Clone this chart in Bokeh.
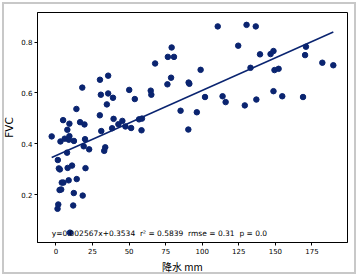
import numpy as np
from bokeh.plotting import figure
from bokeh.models import ColumnDataSource, Label, Range1d, FixedTicker
from bokeh.embed import file_html
from bokeh.resources import INLINE

# ---- data ----
rain = [-2.9, 3.1, 4.9, 6.0, 7.8, 9.2, 9.2, 8.8, 12.3, 7.6, 1.3, 14.0, 18.0, 16.5, 19.5,
        19.9, 19.0, 22.7, 2.0, 2.7, 8.0, 11.0, 20.2, 4.0, 5.1, 8.7, 14.2, 2.5, 3.6, 12.2,
        18.3, 1.6, 1.1, 11.8, 9.6,
        30.1, 35.7, 30.7, 35.7, 34.8, 39.0, 30.0, 39.4, 31.0, 38.4, 42.7, 45.4, 47.5, 51.4,
        50.1, 53.9, 56.8, 58.8, 58.5, 33.7, 33.0,
        64.8, 65.2, 67.8, 76.5, 79.1, 80.7, 78.7, 76.2, 85.2, 90.7, 91.2, 90.5, 96.3, 98.9,
        101.9,
        110.6, 113.9, 116.0, 124.6, 130.3, 136.6, 129.1, 133.0, 137.0, 139.5, 146.7, 148.7,
        149.4, 152.2, 148.7, 154.7, 168.9, 170.9, 170.3, 182.1, 189.6]
fvc = [0.429, 0.409, 0.493, 0.420, 0.455, 0.479, 0.430, 0.416, 0.411, 0.365, 0.336, 0.537,
       0.621, 0.485, 0.476, 0.418, 0.390, 0.378, 0.303, 0.299, 0.305, 0.314, 0.304, 0.247,
       0.247, 0.256, 0.261, 0.218, 0.220, 0.206, 0.196, 0.161, 0.144, 0.157, 0.050,
       0.652, 0.668, 0.593, 0.598, 0.555, 0.581, 0.512, 0.498, 0.450, 0.461, 0.477, 0.490,
       0.468, 0.462, 0.612, 0.576, 0.496, 0.499, 0.453, 0.386, 0.372,
       0.609, 0.593, 0.716, 0.742, 0.779, 0.742, 0.660, 0.634, 0.530, 0.641, 0.636, 0.456,
       0.524, 0.691, 0.584,
       0.862, 0.587, 0.564, 0.786, 0.868, 0.862, 0.551, 0.699, 0.574, 0.752, 0.753, 0.765,
       0.690, 0.695, 0.607, 0.587, 0.584, 0.782, 0.749, 0.719, 0.709]

slope = 0.002567
intercept = 0.3534
r2 = 0.5839
rmse = 0.31
pval = 0.0

x_ticks = [0, 25, 50, 75, 100, 125, 150, 175]
y_ticks = [0.2, 0.4, 0.6, 0.8]

NAVY = "#0a2470"
TICK_FONT = "DejaVu Sans"

p = figure(width=358, height=276, output_backend="svg", toolbar_location=None,
           x_range=Range1d(-12.6, 199.3), y_range=Range1d(0.0113, 0.9167),
           min_border_left=30, min_border_right=11, min_border_top=12, min_border_bottom=31)
p.border_fill_alpha = 0
p.background_fill_color = "white"
p.outline_line_color = "black"
p.outline_line_width = 1
p.grid.visible = False
p.styles = {"box-shadow": "inset 0 0 0 2px #ffffff, inset 0 0 0 4px #c8c8c8",
            "background": "white"}

for ax in (p.xaxis[0], p.yaxis[0]):
    ax.axis_line_color = "black"
    ax.major_tick_out = 3
    ax.major_tick_in = 0
    ax.minor_tick_line_color = None
    ax.major_tick_line_color = "black"
    ax.major_label_text_font = TICK_FONT
    ax.major_label_text_font_size = "7px"
    ax.major_label_text_color = "black"
    ax.major_label_standoff = 2
    ax.axis_label_text_color = "black"
    ax.axis_label_text_font_style = "normal"

p.xaxis.ticker = FixedTicker(ticks=x_ticks)
p.yaxis.ticker = FixedTicker(ticks=y_ticks)

p.yaxis.axis_label = "FVC"
p.yaxis.axis_label_text_font = TICK_FONT
p.yaxis.axis_label_text_font_size = "10.5px"
p.yaxis.axis_label_standoff = 3

# trailing em spaces shift the visible label left, as in the reference
p.xaxis.axis_label = "降水 mm\u2003\u2003"
p.xaxis.axis_label_text_font = "Noto Sans CJK SC"
p.xaxis.axis_label_text_font_size = "10px"
p.xaxis.axis_label_standoff = 2

src = ColumnDataSource(dict(x=rain, y=fvc))
p.scatter("x", "y", source=src, size=5.5, fill_color=NAVY, line_color=NAVY)

xs = np.array([min(rain), max(rain)])
p.line(xs, slope * xs + intercept, line_color=NAVY, line_width=1.5)

sp = "\u00a0\u00a0"
txt = f"y={slope}x+{intercept}{sp}r\u00b2 = {r2}{sp}rmse = {rmse}{sp}p = {pval}"
p.add_layout(Label(x=min(rain), y=0.045, text=txt, text_font=TICK_FONT,
                   text_font_size="7.5px", text_baseline="middle", text_color="black"))

open("out.html", "w").write(file_html(p, INLINE))
